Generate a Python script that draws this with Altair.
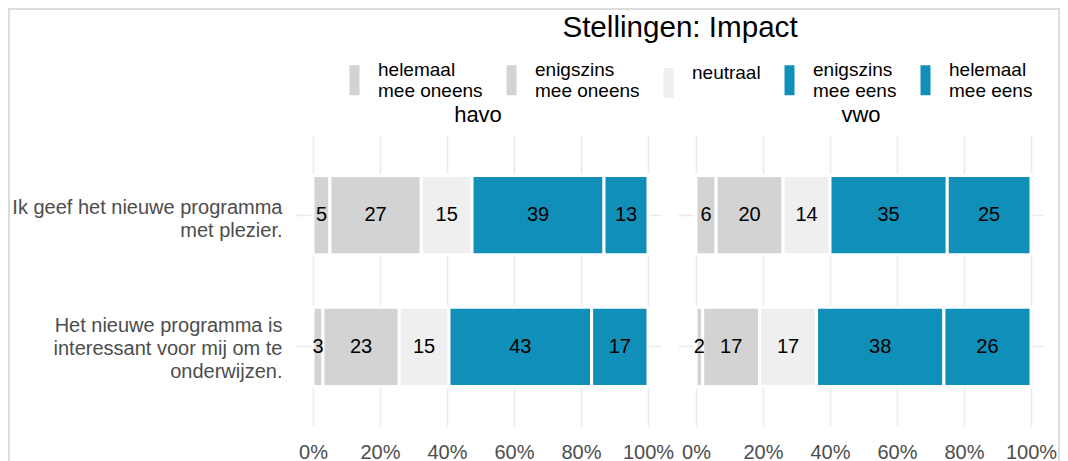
import altair as alt
import pandas as pd

FONT = "Liberation Sans"

niveaus = ["havo", "vwo"]
stellingen = [
    "Ik geef het nieuwe programma\nmet plezier.",
    "Het nieuwe programma is\ninteressant voor mij om te\nonderwijzen.",
]
categorieen = [
    "helemaal\nmee oneens",
    "enigszins\nmee oneens",
    "neutraal",
    "enigszins\nmee eens",
    "helemaal\nmee eens",
]
kleuren = ["#d3d3d3", "#d3d3d3", "#efefef", "#108fb8", "#108fb8"]

havo_plezier = [5, 27, 15, 39, 13]
havo_interessant = [3, 23, 15, 43, 17]
vwo_plezier = [6, 20, 14, 35, 25]
vwo_interessant = [2, 17, 17, 38, 26]

reeksen = {
    "havo": [havo_plezier, havo_interessant],
    "vwo": [vwo_plezier, vwo_interessant],
}

rows = []
for niv in niveaus:
    for st, vals in zip(stellingen, reeksen[niv]):
        for i, (cat, v) in enumerate(zip(categorieen, vals)):
            rows.append({"niveau": niv, "stelling": st, "categorie": cat, "ord": i, "pct": v})
df = pd.DataFrame(rows)

xscale = alt.Scale(domain=[-0.0537, 1.0388], nice=False, zero=False)
yscale = alt.Scale(domain=stellingen, paddingInner=0.4, paddingOuter=0.3)

xaxis = alt.Axis(
    values=[0, 0.1, 0.2, 0.3, 0.4, 0.5, 0.6, 0.7, 0.8, 0.9, 1.0],
    labelExpr="round(datum.value * 10) % 2 == 0 ? format(datum.value, '.0%') : ''",
    title=None, ticks=False, domain=False, grid=True,
    gridColor="#ebebeb", gridWidth=1.6,
    labelFont=FONT, labelFontSize=20, labelColor="#4d4d4d",
    labelPadding=16, labelOverlap=False, labelFlush=False, labelBound=False,
)
yaxis = alt.Axis(
    title=None, ticks=False, domain=False, grid=True, bandPosition=0.5,
    gridColor="#ebebeb", gridWidth=1.6,
    labelFont=FONT, labelFontSize=20, labelColor="#4d4d4d",
    labelPadding=13, labelLimit=400, labelLineHeight=23,
    labelOffset={"condition": {"test": "indexof(datum.value, 'Het') == 0", "value": -21}, "value": -7},
    labelExpr="split(datum.label, '\\n')",
)
legend = alt.Legend(
    orient="none", legendX=50, legendY=-76, direction="horizontal", columns=5,
    title=None, symbolType="M-1,-0.9H1V5.1H-1Z", symbolSize=100, symbolStrokeWidth=0,
    labelFont=FONT, labelFontSize=19, labelColor="black", labelOffset=14,
    columnPadding=19, labelLimit=300,
    labelExpr="split(datum.label, '\\n')",
)

bars = alt.Chart().mark_bar(stroke="white", strokeWidth=3).encode(
    x=alt.X("x0:Q", scale=xscale, axis=xaxis),
    x2="x1:Q",
    y=alt.Y("stelling:N", scale=yscale, axis=yaxis, sort=stellingen),
    color=alt.Color("categorie:N", scale=alt.Scale(domain=categorieen, range=kleuren), legend=legend),
)
labels = alt.Chart().mark_text(font=FONT, fontSize=20, color="black").encode(
    x=alt.X("mid:Q", scale=xscale),
    y=alt.Y("stelling:N", scale=yscale, sort=stellingen),
    text="pct:Q",
)
border = alt.Chart().transform_filter(
    "datum.niveau == 'havo' && datum.ord == 0"
).mark_rect(fillOpacity=0, stroke="#dcdcdc", strokeWidth=2).encode(
    x=alt.value(-286), x2=alt.value(764), y=alt.value(-127), y2=alt.value(334)
)

layered = alt.layer(border, bars, labels, data=df).transform_stack(
    stack="pct", as_=["x0", "x1"], groupby=["niveau", "stelling"],
    sort=[alt.SortField("ord", "ascending")], offset="normalize",
).transform_calculate(mid="(datum.x0 + datum.x1) / 2").properties(width=366, height=290)

chart = layered.facet(
    column=alt.Column(
        "niveau:N", sort=niveaus, title=None,
        header=alt.Header(labelFont=FONT, labelFontSize=22, labelColor="black", labelPadding=9),
    ),
    spacing=17,
    bounds="flush",
).properties(
    title=alt.TitleParams(
        "Stellingen: Impact", font=FONT, fontSize=29.6, fontWeight="normal", color="black",
        anchor="middle", dx=146, dy=36, offset=0,
    ),
    padding=0,
).configure_view(strokeWidth=0)

chart.save("out.html", embed_options={"renderer": "svg", "actions": False})
